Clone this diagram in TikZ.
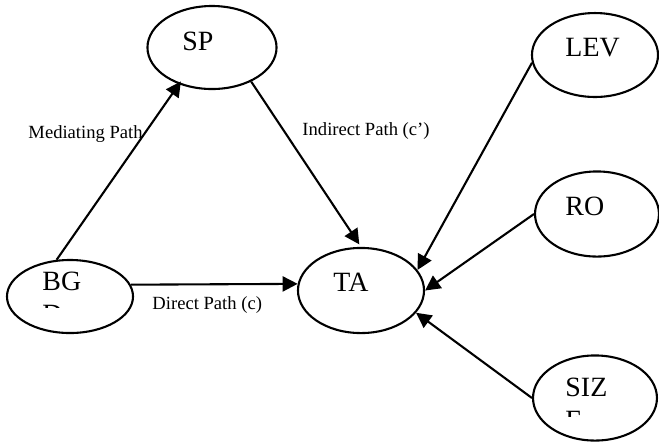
\documentclass[tikz,border=0pt]{standalone}
\usepackage{fontspec}
\setmainfont{Liberation Serif}
\usetikzlibrary{shapes.geometric}
\usetikzlibrary{arrows.meta}

\tikzset{
    var/.style 2 args={draw, ellipse, line width=0.9pt, inner sep=0pt,
        minimum width=#1, minimum height=#2},
    vartext/.style={anchor=base west, inner sep=0pt, font=\fontsize{12}{14}\selectfont},
    pathlabel/.style={anchor=west, inner sep=0pt, font=\fontsize{8}{9.6}\selectfont},
    arr/.style={-{Triangle[length=6.5pt,width=6.5pt]}, line width=0.9pt},
}

\begin{document}
\begin{tikzpicture}[x=0.43pt, y=-0.43pt]
    \useasboundingbox (0,0) rectangle (659,443);
    % ellipses
    \node[var={55.5pt}{35.7pt}] (sp) at (212,47.5) {};
    \node[var={54.2pt}{31.4pt}] (bg) at (70,296.5) {};
    \node[var={54.2pt}{36.6pt}] (ta) at (361,290.5) {};
    \node[var={54.2pt}{36.1pt}] (lev) at (595,55) {};
    \node[var={53.3pt}{36.6pt}] (ro) at (597,214) {};
    \node[var={53.3pt}{36.6pt}] (size) at (595,398) {};
    % texts
    \node[vartext] (sptext) at (182,50.5) {SP};
    \node[vartext] (tatext) at (333,291.5) {TA};
    \node[vartext] (levtext) at (565,56.5) {LEV};
    \node[vartext] (rotext) at (565,215.5) {RO};
    \begin{scope}
        \clip (30,255) rectangle (130,307.5);
        \node[vartext] (bgtext) at (42,290.5) {BG};
        \node[vartext] (bgcut) at (42,323.5) {D};
    \end{scope}
    \begin{scope}
        \clip (550,360) rectangle (650,416.5);
        \node[vartext] (sizetext) at (565,396.5) {SIZ};
        \node[vartext] (sizecut) at (565,429.5) {E};
    \end{scope}
    % path labels
    \node[pathlabel] (medlabel) at (28,134) {Mediating Path};
    \node[pathlabel] (indlabel) at (302,131) {Indirect Path (c’)};
    \node[pathlabel] (dirlabel) at (152,305) {Direct Path (c)};
    % arrows
    \draw[arr, shorten >=-1.5pt] (bg.110) -- (sp.228);
    \draw[arr, shorten >=1.3pt] (sp.319) -- (ta.north);
    \draw[arr] (bg.11) -- (ta.174);
    \draw[arr] (lev.187) -- (ta.20);
    \draw[arr] (ro.west) -- (ta.east);
    \draw[arr] (size.west) -- (ta.338);
\end{tikzpicture}
\end{document}
